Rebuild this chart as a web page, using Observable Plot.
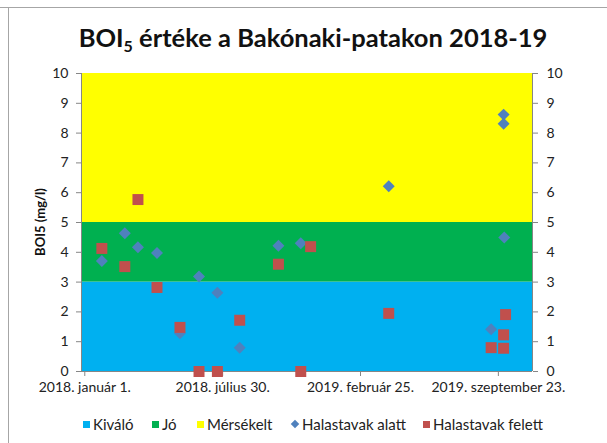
<!DOCTYPE html>
<html><head><meta charset="utf-8">
<script src="https://cdn.jsdelivr.net/npm/d3@7"></script>
<script src="https://cdn.jsdelivr.net/npm/@observablehq/plot@0.6"></script>
<style>
body{margin:0;background:#fff;font-family:Lato,"Open Sans",sans-serif;color:#222;}
#wrap{position:relative;width:607px;height:443px;overflow:hidden;background:#fff;}
#frameTop{position:absolute;left:0;top:7px;width:607px;border-top:1px solid #a6a6a6;}
#frameLeft{position:absolute;left:8px;top:7px;height:436px;border-left:1px solid #a6a6a6;}
#title{position:absolute;top:22px;left:8px;width:610px;text-align:center;font-weight:bold;font-size:25.5px;color:#111;white-space:nowrap;}
#title sub{font-size:16px;vertical-align:-5px;line-height:0;}
#ylab{position:absolute;left:40px;top:222px;transform:translate(-50%,-50%) rotate(-90deg);font-weight:bold;font-size:13px;white-space:nowrap;color:#111;}
#chart{position:absolute;left:0;top:55px;}
#legend{position:absolute;top:415px;left:0;width:607px;height:20px;font-size:15px;color:#222;}
.item{position:absolute;top:0;display:flex;align-items:center;white-space:nowrap;}
.sw{width:7px;height:7px;margin-right:3px;}
.dia{width:6px;height:6px;transform:rotate(45deg);margin:0 4px 0 2px;}
</style></head>
<body>
<div id="wrap">
  <div id="frameTop"></div><div id="frameLeft"></div>
  <div id="title">BOI<sub>5</sub> értéke a Bakónaki-patakon 2018-19</div>
  <div id="ylab">BOI5 (mg/l)</div>
  <div id="chart"></div>
  <div id="legend"></div>
</div>
<script>
// ---- data ----
const bandNames = ["Kiváló", "Jó", "Mérsékelt"];
const bandLow = [0, 3, 5];
const bandHigh = [3, 5, 10];
const bandColors = ["#00B0F0", "#00B050", "#FFFF00"];

const alattDates = ["2018-01-27","2018-03-03","2018-03-23","2018-04-21","2018-05-26","2018-06-24","2018-07-22","2018-08-25","2018-10-23","2018-11-26","2019-04-09","2019-09-12","2019-10-02","2019-10-01","2019-10-01"];
const alattValues = [3.71, 4.64, 4.17, 3.98, 1.28, 3.19, 2.64, 0.8, 4.22, 4.3, 6.22, 1.42, 4.5, 8.62, 8.31];

const felettDates = ["2018-01-27","2018-03-03","2018-03-23","2018-04-21","2018-05-26","2018-06-24","2018-07-22","2018-08-25","2018-10-23","2018-11-26","2018-12-11","2019-04-09","2019-09-12","2019-10-01","2019-10-01","2019-10-04"];
const felettValues = [4.13, 3.52, 5.77, 2.82, 1.48, 0, 0, 1.72, 3.6, 0, 4.19, 1.95, 0.8, 0.78, 1.23, 1.91];

const xTickDates = ["2018-01-01","2018-07-30","2019-02-25","2019-09-23"];
const xTickLabels = ["2018. január 1.","2018. július 30.","2019. február 25.","2019. szeptember 23."];
const xDomainDates = ["2017-12-27","2019-11-14"];
const yTicks = [0,1,2,3,4,5,6,7,8,9,10];

const seriesNames = ["Halastavak alatt", "Halastavak felett"];
const seriesColors = ["#4F81BD", "#C0504D"];

// ---- build ----
const toDate = s => new Date(s + "T00:00:00Z");
const alatt = alattDates.map((d, i) => ({date: toDate(d), v: alattValues[i]}));
const felett = felettDates.map((d, i) => ({date: toDate(d), v: felettValues[i]}));
const bands = bandNames.map((n, i) => ({name: n, lo: bandLow[i], hi: bandHigh[i], color: bandColors[i]}));
const xDomain = xDomainDates.map(toDate);
const xTicks = xTickDates.map(toDate);
const labelMap = new Map(xTicks.map((d, i) => [+d, xTickLabels[i]]));
const axisGray = "#868686";

const plot = Plot.plot({
  width: 607, height: 345,
  marginLeft: 81, marginRight: 75, marginTop: 18, marginBottom: 29,
  style: {fontFamily: "Lato, 'Open Sans', sans-serif", fontSize: "14px", color: "#222", background: "transparent"},
  x: {type: "utc", domain: xDomain},
  y: {domain: [0, 10]},
  marks: [
    ...bands.map(b => Plot.rect([b], {x1: () => xDomain[0], x2: () => xDomain[1], y1: "lo", y2: "hi", fill: b.color})),
    Plot.ruleX(xDomain, {stroke: axisGray}),
    Plot.ruleY([0], {stroke: axisGray}),
    Plot.axisY(yTicks, {anchor: "left", tickSize: 5, tickPadding: 8, stroke: axisGray, fill: "#222", label: null}),
    Plot.axisY(yTicks, {anchor: "right", tickSize: 5, tickPadding: 9, stroke: axisGray, fill: "#222", label: null}),
    Plot.axisX(xTicks, {anchor: "bottom", tickSize: 5, tickPadding: 6, stroke: axisGray, fill: "#222", label: null, tickFormat: d => labelMap.get(+d)}),
    Plot.dot(alatt, {x: "date", y: "v", symbol: "diamond2", r: 5.4, fill: seriesColors[0], stroke: null}),
    Plot.dot(felett, {x: "date", y: "v", symbol: "square", r: 6.2, fill: seriesColors[1], stroke: null})
  ]
});
document.getElementById("chart").appendChild(plot);

// ---- legend ----
const legendItems = [
  {label: bandNames[0], color: bandColors[0], kind: "sq", left: 83},
  {label: bandNames[1], color: bandColors[1], kind: "sq", left: 152},
  {label: bandNames[2], color: bandColors[2], kind: "sq", left: 197},
  {label: seriesNames[0], color: seriesColors[0], kind: "dia", left: 290},
  {label: seriesNames[1], color: seriesColors[1], kind: "sq", left: 423}
];
const leg = document.getElementById("legend");
legendItems.forEach(it => {
  const el = document.createElement("div");
  el.className = "item";
  el.style.left = it.left + "px";
  const sw = document.createElement("span");
  sw.className = it.kind === "dia" ? "dia" : "sw";
  sw.style.background = it.color;
  const tx = document.createElement("span");
  tx.textContent = it.label;
  el.appendChild(sw); el.appendChild(tx);
  leg.appendChild(el);
});
</script>
</body></html>
